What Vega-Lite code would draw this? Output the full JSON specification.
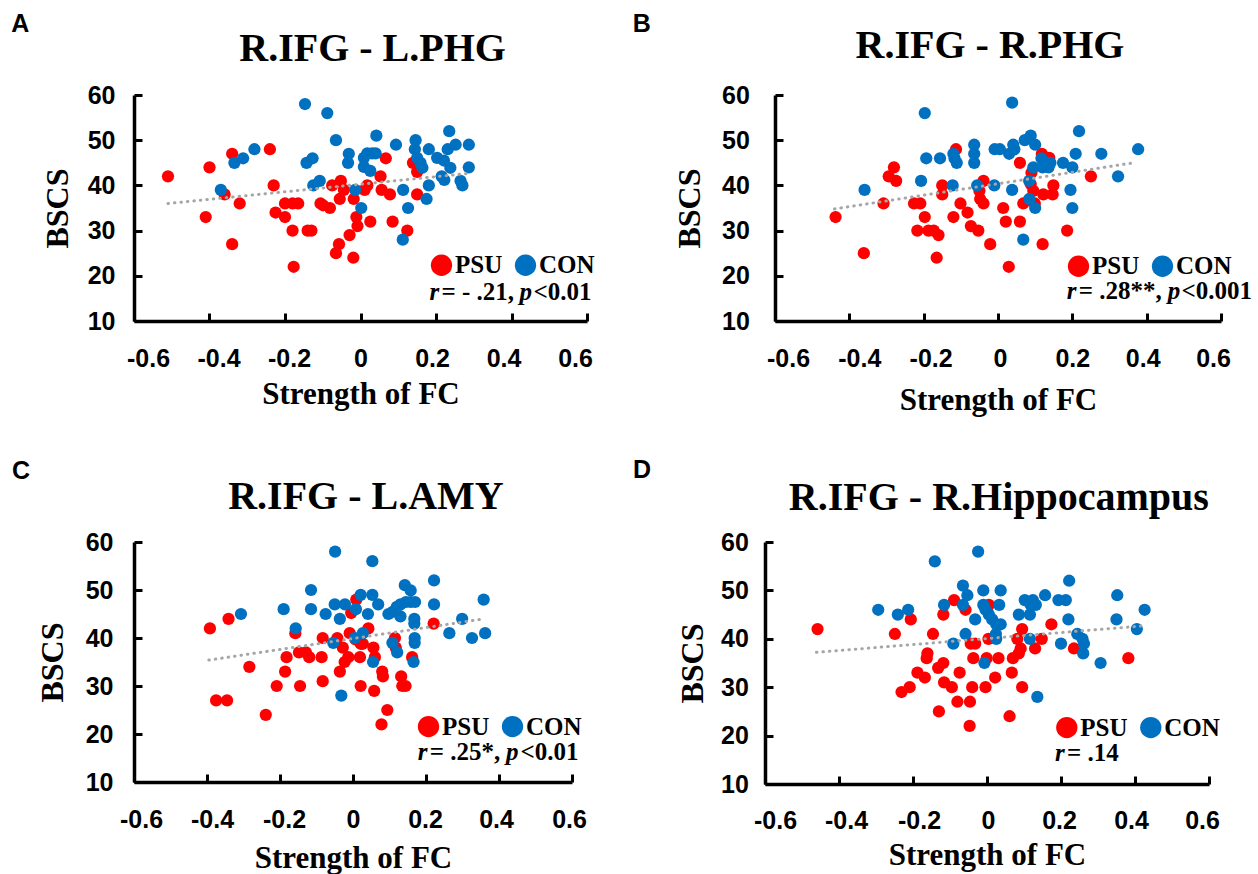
{
  "$schema": "https://vega.github.io/schema/vega-lite/v6.json",
  "padding": {"left": 11, "top": 11, "right": 5, "bottom": 5},
  "background": "white",
  "config": {
    "view": {"stroke": null},
    "axis": {"grid": false, "labelFont": "Liberation Sans", "labelFontSize": 25, "labelFontWeight": "bold", "labelColor": "black", "tickSize": -8, "tickWidth": 3, "tickColor": "black", "domainColor": "black", "domainWidth": 3.5, "titleFont": "Liberation Serif", "titleFontWeight": "bold", "titleColor": "black", "labelFlush": false, "labelOverlap": false},
    "axisX": {"titleFontSize": 31},
    "axisY": {"titleFontSize": 32},
    "legend": {"title": null, "orient": "none", "direction": "horizontal", "symbolSize": 454, "symbolType": "circle", "symbolStrokeWidth": 0, "labelFont": "Liberation Serif", "labelFontSize": 25, "labelFontWeight": "bold", "labelColor": "black", "labelOffset": 1, "columnPadding": 10, "padding": 0}
  },
  "datasets": {
    "pts": [
      {"p":"A","g":"PSU","x":-0.51,"y":42},{"p":"A","g":"PSU","x":-0.40,"y":44},{"p":"A","g":"PSU","x":-0.41,"y":33},{"p":"A","g":"PSU","x":-0.34,"y":47},{"p":"A","g":"PSU","x":-0.36,"y":38},{"p":"A","g":"PSU","x":-0.32,"y":36},{"p":"A","g":"PSU","x":-0.34,"y":27},{"p":"A","g":"PSU","x":-0.24,"y":48},{"p":"A","g":"PSU","x":-0.23,"y":40},{"p":"A","g":"PSU","x":-0.225,"y":34},{"p":"A","g":"PSU","x":-0.20,"y":33},{"p":"A","g":"PSU","x":-0.20,"y":36},{"p":"A","g":"PSU","x":-0.18,"y":36},{"p":"A","g":"PSU","x":-0.165,"y":36},{"p":"A","g":"PSU","x":-0.18,"y":30},{"p":"A","g":"PSU","x":-0.177,"y":22},{"p":"A","g":"PSU","x":-0.14,"y":30},{"p":"A","g":"PSU","x":-0.13,"y":30},{"p":"A","g":"PSU","x":-0.106,"y":36},{"p":"A","g":"PSU","x":-0.099,"y":35.6},{"p":"A","g":"PSU","x":-0.081,"y":35},{"p":"A","g":"PSU","x":-0.075,"y":40},{"p":"A","g":"PSU","x":-0.052,"y":41},{"p":"A","g":"PSU","x":-0.055,"y":37},{"p":"A","g":"PSU","x":-0.044,"y":39},{"p":"A","g":"PSU","x":-0.057,"y":27},{"p":"A","g":"PSU","x":-0.065,"y":25},{"p":"A","g":"PSU","x":-0.029,"y":29},{"p":"A","g":"PSU","x":-0.019,"y":24},{"p":"A","g":"PSU","x":-0.011,"y":33},{"p":"A","g":"PSU","x":-0.008,"y":31},{"p":"A","g":"PSU","x":-0.018,"y":37},{"p":"A","g":"PSU","x":0.018,"y":40},{"p":"A","g":"PSU","x":0.011,"y":39},{"p":"A","g":"PSU","x":0.026,"y":32},{"p":"A","g":"PSU","x":0.053,"y":42},{"p":"A","g":"PSU","x":0.067,"y":46},{"p":"A","g":"PSU","x":0.056,"y":39},{"p":"A","g":"PSU","x":0.078,"y":38},{"p":"A","g":"PSU","x":0.085,"y":32},{"p":"A","g":"PSU","x":0.124,"y":30},{"p":"A","g":"PSU","x":0.15,"y":38},{"p":"A","g":"PSU","x":0.139,"y":45},{"p":"A","g":"PSU","x":0.15,"y":43},
      {"p":"A","g":"CON","x":-0.37,"y":39},{"p":"A","g":"CON","x":-0.334,"y":45},{"p":"A","g":"CON","x":-0.311,"y":46},{"p":"A","g":"CON","x":-0.281,"y":48},{"p":"A","g":"CON","x":-0.147,"y":58},{"p":"A","g":"CON","x":-0.088,"y":56},{"p":"A","g":"CON","x":-0.143,"y":45},{"p":"A","g":"CON","x":-0.127,"y":46},{"p":"A","g":"CON","x":-0.125,"y":40},{"p":"A","g":"CON","x":-0.108,"y":41},{"p":"A","g":"CON","x":-0.065,"y":50},{"p":"A","g":"CON","x":-0.031,"y":47},{"p":"A","g":"CON","x":-0.033,"y":45},{"p":"A","g":"CON","x":-0.014,"y":39},{"p":"A","g":"CON","x":0.002,"y":35},{"p":"A","g":"CON","x":0.009,"y":46.1},{"p":"A","g":"CON","x":0.018,"y":47.1},{"p":"A","g":"CON","x":0.031,"y":47.1},{"p":"A","g":"CON","x":0.040,"y":47.1},{"p":"A","g":"CON","x":0.009,"y":44.1},{"p":"A","g":"CON","x":0.026,"y":43.2},{"p":"A","g":"CON","x":0.042,"y":51},{"p":"A","g":"CON","x":0.094,"y":49},{"p":"A","g":"CON","x":0.113,"y":39},{"p":"A","g":"CON","x":0.126,"y":35},{"p":"A","g":"CON","x":0.112,"y":28},{"p":"A","g":"CON","x":0.146,"y":50},{"p":"A","g":"CON","x":0.144,"y":48},{"p":"A","g":"CON","x":0.150,"y":46.1},{"p":"A","g":"CON","x":0.159,"y":45},{"p":"A","g":"CON","x":0.164,"y":43.9},{"p":"A","g":"CON","x":0.181,"y":48},{"p":"A","g":"CON","x":0.181,"y":40},{"p":"A","g":"CON","x":0.175,"y":37},{"p":"A","g":"CON","x":0.235,"y":52},{"p":"A","g":"CON","x":0.231,"y":48},{"p":"A","g":"CON","x":0.252,"y":49},{"p":"A","g":"CON","x":0.203,"y":46.1},{"p":"A","g":"CON","x":0.221,"y":45.5},{"p":"A","g":"CON","x":0.238,"y":43.9},{"p":"A","g":"CON","x":0.215,"y":42},{"p":"A","g":"CON","x":0.222,"y":41.2},{"p":"A","g":"CON","x":0.265,"y":41},{"p":"A","g":"CON","x":0.27,"y":40},{"p":"A","g":"CON","x":0.287,"y":49},{"p":"A","g":"CON","x":0.287,"y":44},
      {"p":"B","g":"PSU","x":-0.437,"y":33},{"p":"B","g":"PSU","x":-0.361,"y":25},{"p":"B","g":"PSU","x":-0.308,"y":36},{"p":"B","g":"PSU","x":-0.294,"y":42},{"p":"B","g":"PSU","x":-0.28,"y":44},{"p":"B","g":"PSU","x":-0.274,"y":41},{"p":"B","g":"PSU","x":-0.226,"y":36},{"p":"B","g":"PSU","x":-0.209,"y":36},{"p":"B","g":"PSU","x":-0.197,"y":33},{"p":"B","g":"PSU","x":-0.217,"y":30},{"p":"B","g":"PSU","x":-0.187,"y":30},{"p":"B","g":"PSU","x":-0.173,"y":30},{"p":"B","g":"PSU","x":-0.16,"y":29},{"p":"B","g":"PSU","x":-0.165,"y":24},{"p":"B","g":"PSU","x":-0.15,"y":40},{"p":"B","g":"PSU","x":-0.15,"y":38},{"p":"B","g":"PSU","x":-0.12,"y":33},{"p":"B","g":"PSU","x":-0.113,"y":48},{"p":"B","g":"PSU","x":-0.101,"y":36},{"p":"B","g":"PSU","x":-0.082,"y":34},{"p":"B","g":"PSU","x":-0.073,"y":31},{"p":"B","g":"PSU","x":-0.053,"y":30},{"p":"B","g":"PSU","x":-0.039,"y":41},{"p":"B","g":"PSU","x":-0.05,"y":38.8},{"p":"B","g":"PSU","x":-0.048,"y":37},{"p":"B","g":"PSU","x":-0.039,"y":36},{"p":"B","g":"PSU","x":-0.021,"y":27},{"p":"B","g":"PSU","x":0.014,"y":35},{"p":"B","g":"PSU","x":0.021,"y":32},{"p":"B","g":"PSU","x":0.059,"y":45},{"p":"B","g":"PSU","x":0.059,"y":32},{"p":"B","g":"PSU","x":0.068,"y":36},{"p":"B","g":"PSU","x":0.029,"y":22},{"p":"B","g":"PSU","x":0.09,"y":42.8},{"p":"B","g":"PSU","x":0.088,"y":40.3},{"p":"B","g":"PSU","x":0.095,"y":38.8},{"p":"B","g":"PSU","x":0.099,"y":36},{"p":"B","g":"PSU","x":0.118,"y":47},{"p":"B","g":"PSU","x":0.138,"y":46.1},{"p":"B","g":"PSU","x":0.122,"y":38},{"p":"B","g":"PSU","x":0.147,"y":38},{"p":"B","g":"PSU","x":0.149,"y":40},{"p":"B","g":"PSU","x":0.12,"y":27},{"p":"B","g":"PSU","x":0.186,"y":30},{"p":"B","g":"PSU","x":0.25,"y":42},
      {"p":"B","g":"CON","x":-0.359,"y":39},{"p":"B","g":"CON","x":-0.197,"y":56},{"p":"B","g":"CON","x":-0.207,"y":41},{"p":"B","g":"CON","x":-0.193,"y":46},{"p":"B","g":"CON","x":-0.156,"y":46},{"p":"B","g":"CON","x":-0.122,"y":40},{"p":"B","g":"CON","x":-0.12,"y":47},{"p":"B","g":"CON","x":-0.117,"y":46},{"p":"B","g":"CON","x":-0.111,"y":45},{"p":"B","g":"CON","x":-0.064,"y":49},{"p":"B","g":"CON","x":-0.064,"y":47},{"p":"B","g":"CON","x":-0.064,"y":45},{"p":"B","g":"CON","x":-0.056,"y":40},{"p":"B","g":"CON","x":-0.01,"y":40},{"p":"B","g":"CON","x":-0.009,"y":48},{"p":"B","g":"CON","x":0.005,"y":48},{"p":"B","g":"CON","x":0.03,"y":47},{"p":"B","g":"CON","x":0.038,"y":58.3},{"p":"B","g":"CON","x":0.041,"y":49},{"p":"B","g":"CON","x":0.044,"y":48},{"p":"B","g":"CON","x":0.038,"y":39},{"p":"B","g":"CON","x":0.072,"y":50},{"p":"B","g":"CON","x":0.088,"y":51},{"p":"B","g":"CON","x":0.1,"y":49},{"p":"B","g":"CON","x":0.068,"y":28},{"p":"B","g":"CON","x":0.084,"y":41},{"p":"B","g":"CON","x":0.084,"y":37},{"p":"B","g":"CON","x":0.1,"y":35},{"p":"B","g":"CON","x":0.095,"y":44},{"p":"B","g":"CON","x":0.117,"y":46},{"p":"B","g":"CON","x":0.12,"y":44},{"p":"B","g":"CON","x":0.136,"y":44},{"p":"B","g":"CON","x":0.141,"y":45},{"p":"B","g":"CON","x":0.175,"y":45},{"p":"B","g":"CON","x":0.2,"y":44},{"p":"B","g":"CON","x":0.209,"y":47},{"p":"B","g":"CON","x":0.195,"y":39},{"p":"B","g":"CON","x":0.2,"y":35},{"p":"B","g":"CON","x":0.218,"y":52},{"p":"B","g":"CON","x":0.278,"y":47},{"p":"B","g":"CON","x":0.377,"y":48},{"p":"B","g":"CON","x":0.323,"y":42},
      {"p":"C","g":"PSU","x":-0.392,"y":42},{"p":"C","g":"PSU","x":-0.341,"y":44},{"p":"C","g":"PSU","x":-0.284,"y":34},{"p":"C","g":"PSU","x":-0.375,"y":27},{"p":"C","g":"PSU","x":-0.345,"y":27},{"p":"C","g":"PSU","x":-0.239,"y":24},{"p":"C","g":"PSU","x":-0.209,"y":30},{"p":"C","g":"PSU","x":-0.186,"y":33},{"p":"C","g":"PSU","x":-0.182,"y":36},{"p":"C","g":"PSU","x":-0.158,"y":41},{"p":"C","g":"PSU","x":-0.148,"y":37},{"p":"C","g":"PSU","x":-0.129,"y":37},{"p":"C","g":"PSU","x":-0.12,"y":36},{"p":"C","g":"PSU","x":-0.145,"y":30},{"p":"C","g":"PSU","x":-0.086,"y":36},{"p":"C","g":"PSU","x":-0.083,"y":40},{"p":"C","g":"PSU","x":-0.083,"y":31},{"p":"C","g":"PSU","x":-0.043,"y":40},{"p":"C","g":"PSU","x":-0.028,"y":38},{"p":"C","g":"PSU","x":-0.036,"y":33},{"p":"C","g":"PSU","x":-0.023,"y":35},{"p":"C","g":"PSU","x":-0.013,"y":36},{"p":"C","g":"PSU","x":-0.009,"y":41},{"p":"C","g":"PSU","x":0.009,"y":48},{"p":"C","g":"PSU","x":-0.005,"y":45.2},{"p":"C","g":"PSU","x":0.007,"y":39.7},{"p":"C","g":"PSU","x":0.021,"y":38.8},{"p":"C","g":"PSU","x":0.027,"y":38.8},{"p":"C","g":"PSU","x":0.019,"y":36},{"p":"C","g":"PSU","x":0.021,"y":30},{"p":"C","g":"PSU","x":0.042,"y":42},{"p":"C","g":"PSU","x":0.056,"y":38},{"p":"C","g":"PSU","x":0.06,"y":36},{"p":"C","g":"PSU","x":0.058,"y":29},{"p":"C","g":"PSU","x":0.08,"y":33},{"p":"C","g":"PSU","x":0.082,"y":32},{"p":"C","g":"PSU","x":0.094,"y":25},{"p":"C","g":"PSU","x":0.078,"y":22},{"p":"C","g":"PSU","x":0.115,"y":40},{"p":"C","g":"PSU","x":0.117,"y":38},{"p":"C","g":"PSU","x":0.132,"y":32},{"p":"C","g":"PSU","x":0.135,"y":30},{"p":"C","g":"PSU","x":0.144,"y":30},{"p":"C","g":"PSU","x":0.162,"y":36},{"p":"C","g":"PSU","x":0.221,"y":43},
      {"p":"C","g":"CON","x":-0.307,"y":45},{"p":"C","g":"CON","x":-0.19,"y":46},{"p":"C","g":"CON","x":-0.157,"y":42},{"p":"C","g":"CON","x":-0.115,"y":50},{"p":"C","g":"CON","x":-0.115,"y":46},{"p":"C","g":"CON","x":-0.075,"y":45},{"p":"C","g":"CON","x":-0.049,"y":58},{"p":"C","g":"CON","x":-0.05,"y":47},{"p":"C","g":"CON","x":-0.036,"y":44},{"p":"C","g":"CON","x":-0.022,"y":47},{"p":"C","g":"CON","x":0.008,"y":46},{"p":"C","g":"CON","x":0.021,"y":49},{"p":"C","g":"CON","x":0.053,"y":49},{"p":"C","g":"CON","x":0.041,"y":45},{"p":"C","g":"CON","x":0.053,"y":56},{"p":"C","g":"CON","x":0.069,"y":47},{"p":"C","g":"CON","x":-0.054,"y":39},{"p":"C","g":"CON","x":0.005,"y":40},{"p":"C","g":"CON","x":0.027,"y":41},{"p":"C","g":"CON","x":0.055,"y":35},{"p":"C","g":"CON","x":-0.032,"y":28},{"p":"C","g":"CON","x":0.097,"y":45},{"p":"C","g":"CON","x":0.108,"y":39},{"p":"C","g":"CON","x":0.121,"y":37},{"p":"C","g":"CON","x":0.11,"y":45.5},{"p":"C","g":"CON","x":0.12,"y":46.5},{"p":"C","g":"CON","x":0.13,"y":47},{"p":"C","g":"CON","x":0.145,"y":47.5},{"p":"C","g":"CON","x":0.158,"y":47.5},{"p":"C","g":"CON","x":0.17,"y":47.5},{"p":"C","g":"CON","x":0.13,"y":44.5},{"p":"C","g":"CON","x":0.142,"y":51},{"p":"C","g":"CON","x":0.158,"y":49.9},{"p":"C","g":"CON","x":0.168,"y":44},{"p":"C","g":"CON","x":0.168,"y":43},{"p":"C","g":"CON","x":0.169,"y":40},{"p":"C","g":"CON","x":0.169,"y":39},{"p":"C","g":"CON","x":0.166,"y":35},{"p":"C","g":"CON","x":0.222,"y":52},{"p":"C","g":"CON","x":0.222,"y":47},{"p":"C","g":"CON","x":0.264,"y":41},{"p":"C","g":"CON","x":0.299,"y":44},{"p":"C","g":"CON","x":0.326,"y":40},{"p":"C","g":"CON","x":0.362,"y":41},{"p":"C","g":"CON","x":0.358,"y":48},
      {"p":"D","g":"PSU","x":-0.458,"y":42},{"p":"D","g":"PSU","x":-0.249,"y":41},{"p":"D","g":"PSU","x":-0.206,"y":44},{"p":"D","g":"PSU","x":-0.231,"y":29},{"p":"D","g":"PSU","x":-0.209,"y":30},{"p":"D","g":"PSU","x":-0.188,"y":33},{"p":"D","g":"PSU","x":-0.168,"y":32},{"p":"D","g":"PSU","x":-0.161,"y":37},{"p":"D","g":"PSU","x":-0.163,"y":36},{"p":"D","g":"PSU","x":-0.146,"y":41},{"p":"D","g":"PSU","x":-0.132,"y":34},{"p":"D","g":"PSU","x":-0.118,"y":35},{"p":"D","g":"PSU","x":-0.13,"y":25},{"p":"D","g":"PSU","x":-0.118,"y":45},{"p":"D","g":"PSU","x":-0.116,"y":31},{"p":"D","g":"PSU","x":-0.095,"y":30},{"p":"D","g":"PSU","x":-0.089,"y":48},{"p":"D","g":"PSU","x":-0.08,"y":27},{"p":"D","g":"PSU","x":-0.074,"y":33},{"p":"D","g":"PSU","x":-0.058,"y":46},{"p":"D","g":"PSU","x":-0.046,"y":27},{"p":"D","g":"PSU","x":-0.047,"y":22},{"p":"D","g":"PSU","x":-0.044,"y":39},{"p":"D","g":"PSU","x":-0.032,"y":39},{"p":"D","g":"PSU","x":-0.037,"y":36},{"p":"D","g":"PSU","x":-0.04,"y":30},{"p":"D","g":"PSU","x":-0.004,"y":30},{"p":"D","g":"PSU","x":0.004,"y":40},{"p":"D","g":"PSU","x":0.005,"y":47},{"p":"D","g":"PSU","x":-0.001,"y":36},{"p":"D","g":"PSU","x":0.031,"y":36},{"p":"D","g":"PSU","x":0.022,"y":32},{"p":"D","g":"PSU","x":0.061,"y":24},{"p":"D","g":"PSU","x":0.067,"y":33},{"p":"D","g":"PSU","x":0.07,"y":36},{"p":"D","g":"PSU","x":0.086,"y":37},{"p":"D","g":"PSU","x":0.091,"y":38},{"p":"D","g":"PSU","x":0.082,"y":40},{"p":"D","g":"PSU","x":0.095,"y":42},{"p":"D","g":"PSU","x":0.095,"y":30},{"p":"D","g":"PSU","x":0.13,"y":38},{"p":"D","g":"PSU","x":0.148,"y":40},{"p":"D","g":"PSU","x":0.174,"y":43},{"p":"D","g":"PSU","x":0.235,"y":38},{"p":"D","g":"PSU","x":0.382,"y":36},
      {"p":"D","g":"CON","x":-0.294,"y":46},{"p":"D","g":"CON","x":-0.241,"y":45},{"p":"D","g":"CON","x":-0.213,"y":46},{"p":"D","g":"CON","x":-0.141,"y":56},{"p":"D","g":"CON","x":-0.116,"y":47},{"p":"D","g":"CON","x":-0.091,"y":39},{"p":"D","g":"CON","x":-0.065,"y":51},{"p":"D","g":"CON","x":-0.053,"y":49},{"p":"D","g":"CON","x":-0.065,"y":47},{"p":"D","g":"CON","x":-0.058,"y":41},{"p":"D","g":"CON","x":-0.032,"y":44},{"p":"D","g":"CON","x":-0.024,"y":58},{"p":"D","g":"CON","x":-0.01,"y":50},{"p":"D","g":"CON","x":-0.01,"y":47},{"p":"D","g":"CON","x":-0.004,"y":46},{"p":"D","g":"CON","x":0.005,"y":45},{"p":"D","g":"CON","x":0.014,"y":44},{"p":"D","g":"CON","x":0.025,"y":43},{"p":"D","g":"CON","x":0.037,"y":43},{"p":"D","g":"CON","x":0.024,"y":41},{"p":"D","g":"CON","x":0.025,"y":40},{"p":"D","g":"CON","x":-0.007,"y":35},{"p":"D","g":"CON","x":0.037,"y":50},{"p":"D","g":"CON","x":0.033,"y":47},{"p":"D","g":"CON","x":0.086,"y":45},{"p":"D","g":"CON","x":0.102,"y":48},{"p":"D","g":"CON","x":0.124,"y":48},{"p":"D","g":"CON","x":0.118,"y":47},{"p":"D","g":"CON","x":0.132,"y":47},{"p":"D","g":"CON","x":0.116,"y":45},{"p":"D","g":"CON","x":0.116,"y":40},{"p":"D","g":"CON","x":0.136,"y":28},{"p":"D","g":"CON","x":0.157,"y":49},{"p":"D","g":"CON","x":0.193,"y":48},{"p":"D","g":"CON","x":0.213,"y":48},{"p":"D","g":"CON","x":0.222,"y":52},{"p":"D","g":"CON","x":0.22,"y":44},{"p":"D","g":"CON","x":0.2,"y":39},{"p":"D","g":"CON","x":0.244,"y":41},{"p":"D","g":"CON","x":0.258,"y":40},{"p":"D","g":"CON","x":0.262,"y":39},{"p":"D","g":"CON","x":0.26,"y":37},{"p":"D","g":"CON","x":0.307,"y":35},{"p":"D","g":"CON","x":0.352,"y":49},{"p":"D","g":"CON","x":0.35,"y":44},{"p":"D","g":"CON","x":0.405,"y":42},{"p":"D","g":"CON","x":0.426,"y":46}
    ],
    "trend": [
      {"p":"A","x":-0.51,"y":36.0},{"p":"A","x":0.28,"y":42.6},
      {"p":"B","x":-0.44,"y":34.8},{"p":"B","x":0.365,"y":45.0},
      {"p":"C","x":-0.395,"y":35.4},{"p":"C","x":0.36,"y":44.0},
      {"p":"D","x":-0.461,"y":37.2},{"p":"D","x":0.427,"y":42.7}
    ],
    "txt": [
      {"p":"A","s":"L","x":-0.925,"y":74.0,"t":"A"},
      {"p":"B","s":"L","x":-0.983,"y":74.0,"t":"B"},
      {"p":"C","s":"L","x":-0.934,"y":73.1,"t":"C"},
      {"p":"D","s":"L","x":-0.957,"y":73.3,"t":"D"},
      {"p":"A","s":"T","x":0.032,"y":67.6,"t":"R.IFG - L.PHG"},
      {"p":"B","s":"T","x":-0.0215,"y":68.25,"t":"R.IFG - R.PHG"},
      {"p":"C","s":"T","x":0.0355,"y":66.9,"t":"R.IFG - L.AMY"},
      {"p":"D","s":"T","x":0.032,"y":66.7,"t":"R.IFG - R.Hippocampus"},
      {"p":"A","s":"i","x":0.1828,"y":14.64,"t":"r"},
      {"p":"A","s":"n","x":0.2146,"y":14.64,"t":"= - .21,"},
      {"p":"A","s":"i","x":0.4212,"y":14.64,"t":"p"},
      {"p":"A","s":"n","x":0.4583,"y":14.64,"t":"<0.01"},
      {"p":"B","s":"i","x":0.1852,"y":14.87,"t":"r"},
      {"p":"B","s":"n","x":0.2174,"y":14.87,"t":"= .28**,"},
      {"p":"B","s":"i","x":0.4564,"y":14.87,"t":"p"},
      {"p":"B","s":"n","x":0.494,"y":14.87,"t":"<0.001"},
      {"p":"C","s":"i","x":0.1776,"y":14.53,"t":"r"},
      {"p":"C","s":"n","x":0.2104,"y":14.53,"t":"= .25*,"},
      {"p":"C","s":"i","x":0.4194,"y":14.53,"t":"p"},
      {"p":"C","s":"n","x":0.459,"y":14.53,"t":"<0.01"},
      {"p":"D","s":"i","x":0.1838,"y":14.67,"t":"r"},
      {"p":"D","s":"n","x":0.2162,"y":14.67,"t":"= .14"}
    ]
  },
  "resolve": {"scale": {"color": "independent"}, "legend": {"color": "independent"}},
  "bounds": "flush",
  "spacing": 447,
  "vconcat": [
    {
      "bounds": "flush",
      "spacing": 188,
      "resolve": {"scale": {"color": "independent"}, "legend": {"color": "independent"}},
      "hconcat": [
        {
          "width": 453, "height": 226,
          "encoding": {
            "x": {"field": "x", "type": "quantitative", "scale": {"domain": [-0.6, 0.6], "nice": false, "zero": false}, "axis": {"values": [-0.6, -0.4, -0.2, 0, 0.2, 0.4, 0.6], "title": "Strength of FC", "labelExpr": "datum.value == 0 ? '0' : (datum.value < 0 ? '-' + format(-datum.value, '.1f') : format(datum.value, '.1f'))", "labelOffset": {"condition": [{"test": "datum.value < -0.5", "value": 14}, {"test": "datum.value < -0.3", "value": 9}, {"test": "datum.value < -0.1", "value": 4}, {"test": "datum.value < 0.1", "value": 0}, {"test": "datum.value < 0.3", "value": -4}, {"test": "datum.value < 0.5", "value": -8}], "value": -12}, "labelPadding": 33, "titlePadding": 8}},
            "y": {"field": "y", "type": "quantitative", "scale": {"domain": [10, 60], "nice": false, "zero": false}, "axis": {"values": [10, 20, 30, 40, 50, 60], "title": "BSCS", "labelPadding": 27, "titlePadding": 13}}
          },
          "layer": [
            {"data": {"name": "pts"}, "transform": [{"filter": "datum.p == 'A'"}], "mark": {"type": "circle", "size": 150, "opacity": 1}, "encoding": {"color": {"field": "g", "type": "nominal", "scale": {"domain": ["PSU", "CON"], "range": ["#ff0000", "#0070c0"]}, "legend": {"legendX": 295, "legendY": 157.5}}}},
            {"data": {"name": "trend"}, "transform": [{"filter": "datum.p == 'A'"}], "mark": {"type": "line", "color": "#a6a6a6", "strokeWidth": 3, "strokeDash": [0.5, 6], "strokeCap": "round"}, "encoding": {}},
            {"data": {"name": "txt"}, "transform": [{"filter": "datum.p == 'A' && datum.s == 'i'"}], "mark": {"type": "text", "font": "Liberation Serif", "fontSize": 25, "fontWeight": "bold", "fontStyle": "italic", "align": "left", "baseline": "alphabetic", "color": "black"}, "encoding": {"text": {"field": "t"}}},
            {"data": {"name": "txt"}, "transform": [{"filter": "datum.p == 'A' && datum.s == 'n'"}], "mark": {"type": "text", "font": "Liberation Serif", "fontSize": 25, "fontWeight": "bold", "align": "left", "baseline": "alphabetic", "color": "black"}, "encoding": {"text": {"field": "t"}}},
            {"data": {"name": "txt"}, "transform": [{"filter": "datum.p == 'A' && datum.s == 'T'"}], "mark": {"type": "text", "font": "Liberation Serif", "fontSize": 40, "fontWeight": "bold", "align": "center", "baseline": "alphabetic", "color": "black"}, "encoding": {"text": {"field": "t"}}},
            {"data": {"name": "txt"}, "transform": [{"filter": "datum.p == 'A' && datum.s == 'L'"}], "mark": {"type": "text", "font": "Liberation Sans", "fontSize": 25, "fontWeight": "bold", "align": "left", "baseline": "alphabetic", "color": "black"}, "encoding": {"text": {"field": "t"}}}
          ]
        },
        {
          "width": 446, "height": 226,
          "encoding": {
            "x": {"field": "x", "type": "quantitative", "scale": {"domain": [-0.6, 0.6], "nice": false, "zero": false}, "axis": {"values": [-0.6, -0.4, -0.2, 0, 0.2, 0.4, 0.6], "title": "Strength of FC", "labelExpr": "datum.value == 0 ? '0' : (datum.value < 0 ? '-' + format(-datum.value, '.1f') : format(datum.value, '.1f'))", "labelOffset": {"condition": [{"test": "datum.value < -0.5", "value": 13}, {"test": "datum.value < -0.3", "value": 10}, {"test": "datum.value < -0.1", "value": 7}, {"test": "datum.value < 0.1", "value": 2}, {"test": "datum.value < 0.3", "value": 0}, {"test": "datum.value < 0.5", "value": -4}], "value": -8}, "labelPadding": 33, "titlePadding": 14}},
            "y": {"field": "y", "type": "quantitative", "scale": {"domain": [10, 60], "nice": false, "zero": false}, "axis": {"values": [10, 20, 30, 40, 50, 60], "title": "BSCS", "labelPadding": 33.6, "titlePadding": 15}}
          },
          "layer": [
            {"data": {"name": "pts"}, "transform": [{"filter": "datum.p == 'B'"}], "mark": {"type": "circle", "size": 150, "opacity": 1}, "encoding": {"color": {"field": "g", "type": "nominal", "scale": {"domain": ["PSU", "CON"], "range": ["#ff0000", "#0070c0"]}, "legend": {"legendX": 291, "legendY": 158.5}}}},
            {"data": {"name": "trend"}, "transform": [{"filter": "datum.p == 'B'"}], "mark": {"type": "line", "color": "#a6a6a6", "strokeWidth": 3, "strokeDash": [0.5, 6], "strokeCap": "round"}, "encoding": {}},
            {"data": {"name": "txt"}, "transform": [{"filter": "datum.p == 'B' && datum.s == 'i'"}], "mark": {"type": "text", "font": "Liberation Serif", "fontSize": 25, "fontWeight": "bold", "fontStyle": "italic", "align": "left", "baseline": "alphabetic", "color": "black"}, "encoding": {"text": {"field": "t"}}},
            {"data": {"name": "txt"}, "transform": [{"filter": "datum.p == 'B' && datum.s == 'n'"}], "mark": {"type": "text", "font": "Liberation Serif", "fontSize": 25, "fontWeight": "bold", "align": "left", "baseline": "alphabetic", "color": "black"}, "encoding": {"text": {"field": "t"}}},
            {"data": {"name": "txt"}, "transform": [{"filter": "datum.p == 'B' && datum.s == 'T'"}], "mark": {"type": "text", "font": "Liberation Serif", "fontSize": 40, "fontWeight": "bold", "align": "center", "baseline": "alphabetic", "color": "black"}, "encoding": {"text": {"field": "t"}}},
            {"data": {"name": "txt"}, "transform": [{"filter": "datum.p == 'B' && datum.s == 'L'"}], "mark": {"type": "text", "font": "Liberation Sans", "fontSize": 25, "fontWeight": "bold", "align": "left", "baseline": "alphabetic", "color": "black"}, "encoding": {"text": {"field": "t"}}}
          ]
        }
      ]
    },
    {
      "bounds": "flush",
      "spacing": 193,
      "resolve": {"scale": {"color": "independent"}, "legend": {"color": "independent"}},
      "hconcat": [
        {
          "width": 438, "height": 240,
          "encoding": {
            "x": {"field": "x", "type": "quantitative", "scale": {"domain": [-0.6, 0.6], "nice": false, "zero": false}, "axis": {"values": [-0.6, -0.4, -0.2, 0, 0.2, 0.4, 0.6], "title": "Strength of FC", "labelExpr": "datum.value == 0 ? '0' : (datum.value < 0 ? '-' + format(-datum.value, '.1f') : format(datum.value, '.1f'))", "labelOffset": {"condition": [{"test": "datum.value < -0.5", "value": 7}, {"test": "datum.value < -0.3", "value": 5}, {"test": "datum.value < -0.1", "value": 4}, {"test": "datum.value < 0.1", "value": 0}, {"test": "datum.value < 0.3", "value": -1}, {"test": "datum.value < 0.5", "value": -3}], "value": -3}, "labelPadding": 33, "titlePadding": 11}},
            "y": {"field": "y", "type": "quantitative", "scale": {"domain": [10, 60], "nice": false, "zero": false}, "axis": {"values": [10, 20, 30, 40, 50, 60], "title": "BSCS", "labelPadding": 29, "titlePadding": 16}}
          },
          "layer": [
            {"data": {"name": "pts"}, "transform": [{"filter": "datum.p == 'C'"}], "mark": {"type": "circle", "size": 150, "opacity": 1}, "encoding": {"color": {"field": "g", "type": "nominal", "scale": {"domain": ["PSU", "CON"], "range": ["#ff0000", "#0070c0"]}, "legend": {"legendX": 282, "legendY": 171.8}}}},
            {"data": {"name": "trend"}, "transform": [{"filter": "datum.p == 'C'"}], "mark": {"type": "line", "color": "#a6a6a6", "strokeWidth": 3, "strokeDash": [0.5, 6], "strokeCap": "round"}, "encoding": {}},
            {"data": {"name": "txt"}, "transform": [{"filter": "datum.p == 'C' && datum.s == 'i'"}], "mark": {"type": "text", "font": "Liberation Serif", "fontSize": 25, "fontWeight": "bold", "fontStyle": "italic", "align": "left", "baseline": "alphabetic", "color": "black"}, "encoding": {"text": {"field": "t"}}},
            {"data": {"name": "txt"}, "transform": [{"filter": "datum.p == 'C' && datum.s == 'n'"}], "mark": {"type": "text", "font": "Liberation Serif", "fontSize": 25, "fontWeight": "bold", "align": "left", "baseline": "alphabetic", "color": "black"}, "encoding": {"text": {"field": "t"}}},
            {"data": {"name": "txt"}, "transform": [{"filter": "datum.p == 'C' && datum.s == 'T'"}], "mark": {"type": "text", "font": "Liberation Serif", "fontSize": 40, "fontWeight": "bold", "align": "center", "baseline": "alphabetic", "color": "black"}, "encoding": {"text": {"field": "t"}}},
            {"data": {"name": "txt"}, "transform": [{"filter": "datum.p == 'C' && datum.s == 'L'"}], "mark": {"type": "text", "font": "Liberation Sans", "fontSize": 25, "fontWeight": "bold", "align": "left", "baseline": "alphabetic", "color": "black"}, "encoding": {"text": {"field": "t"}}}
          ]
        },
        {
          "width": 444, "height": 242,
          "encoding": {
            "x": {"field": "x", "type": "quantitative", "scale": {"domain": [-0.6, 0.6], "nice": false, "zero": false}, "axis": {"values": [-0.6, -0.4, -0.2, 0, 0.2, 0.4, 0.6], "title": "Strength of FC", "labelExpr": "datum.value == 0 ? '0' : (datum.value < 0 ? '-' + format(-datum.value, '.1f') : format(datum.value, '.1f'))", "labelOffset": {"condition": [{"test": "datum.value < -0.5", "value": 10}, {"test": "datum.value < -0.3", "value": 7}, {"test": "datum.value < -0.1", "value": 6}, {"test": "datum.value < 0.1", "value": 1}, {"test": "datum.value < 0.3", "value": -2}, {"test": "datum.value < 0.5", "value": -4}], "value": -7}, "labelPadding": 32, "titlePadding": 7}},
            "y": {"field": "y", "type": "quantitative", "scale": {"domain": [10, 60], "nice": false, "zero": false}, "axis": {"values": [10, 20, 30, 40, 50, 60], "title": "BSCS", "labelPadding": 24.6, "titlePadding": 11}}
          },
          "layer": [
            {"data": {"name": "pts"}, "transform": [{"filter": "datum.p == 'D'"}], "mark": {"type": "circle", "size": 150, "opacity": 1}, "encoding": {"color": {"field": "g", "type": "nominal", "scale": {"domain": ["PSU", "CON"], "range": ["#ff0000", "#0070c0"]}, "legend": {"legendX": 289.3, "legendY": 172.8}}}},
            {"data": {"name": "trend"}, "transform": [{"filter": "datum.p == 'D'"}], "mark": {"type": "line", "color": "#a6a6a6", "strokeWidth": 3, "strokeDash": [0.5, 6], "strokeCap": "round"}, "encoding": {}},
            {"data": {"name": "txt"}, "transform": [{"filter": "datum.p == 'D' && datum.s == 'i'"}], "mark": {"type": "text", "font": "Liberation Serif", "fontSize": 25, "fontWeight": "bold", "fontStyle": "italic", "align": "left", "baseline": "alphabetic", "color": "black"}, "encoding": {"text": {"field": "t"}}},
            {"data": {"name": "txt"}, "transform": [{"filter": "datum.p == 'D' && datum.s == 'n'"}], "mark": {"type": "text", "font": "Liberation Serif", "fontSize": 25, "fontWeight": "bold", "align": "left", "baseline": "alphabetic", "color": "black"}, "encoding": {"text": {"field": "t"}}},
            {"data": {"name": "txt"}, "transform": [{"filter": "datum.p == 'D' && datum.s == 'T'"}], "mark": {"type": "text", "font": "Liberation Serif", "fontSize": 40, "fontWeight": "bold", "align": "center", "baseline": "alphabetic", "color": "black"}, "encoding": {"text": {"field": "t"}}},
            {"data": {"name": "txt"}, "transform": [{"filter": "datum.p == 'D' && datum.s == 'L'"}], "mark": {"type": "text", "font": "Liberation Sans", "fontSize": 25, "fontWeight": "bold", "align": "left", "baseline": "alphabetic", "color": "black"}, "encoding": {"text": {"field": "t"}}}
          ]
        }
      ]
    }
  ]
}
